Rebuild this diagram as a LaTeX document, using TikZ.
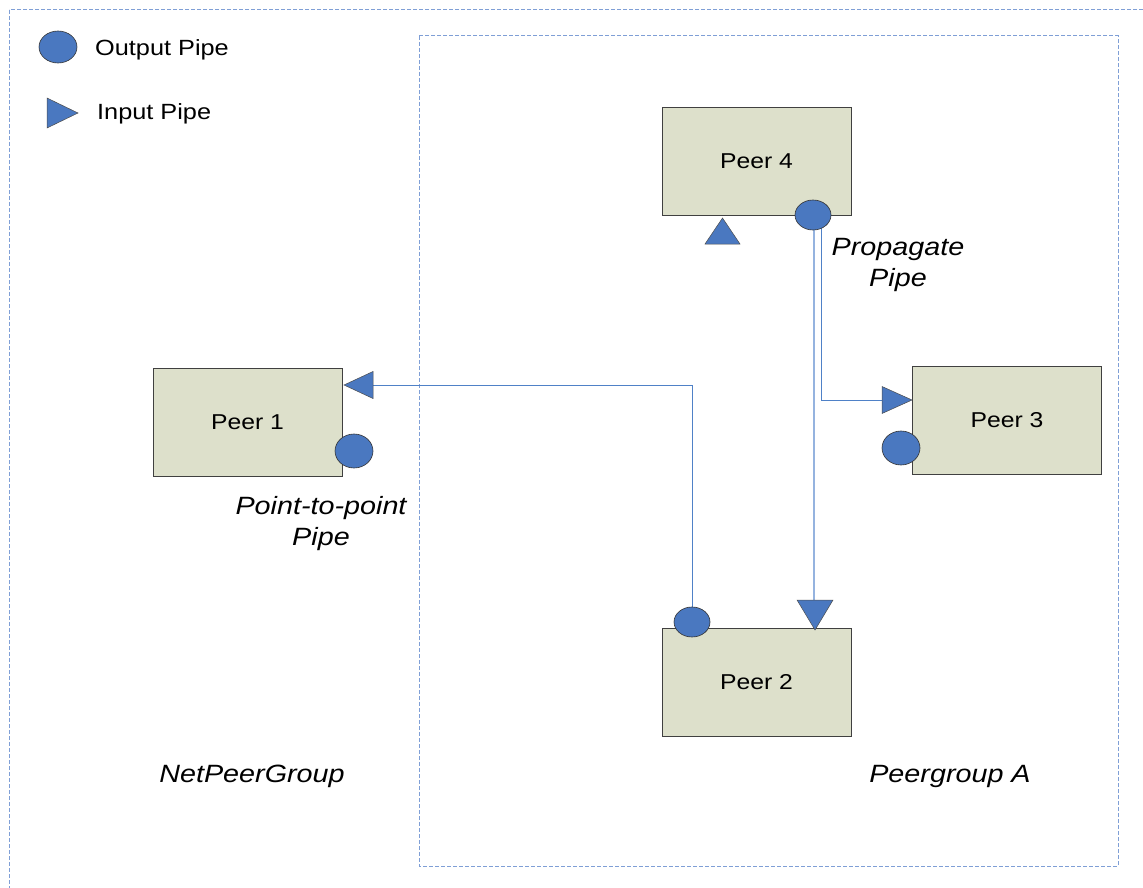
\documentclass[tikz,border=0pt]{standalone}
\usepackage{fontspec}
\setmainfont[FakeStretch=1.15]{Liberation Sans}
\usetikzlibrary{shapes.geometric,backgrounds}
\definecolor{peerfill}{HTML}{DDE0CB}
\definecolor{pipeblue}{HTML}{4A78C0}
\definecolor{linkblue}{HTML}{4F81C7}
\definecolor{lightlink}{HTML}{95B3DF}
\definecolor{groupline}{HTML}{7F9FD6}

\begin{document}
\begin{tikzpicture}[x=1pt,y=-1pt,
  peer/.style={draw=black!75, line width=0.8pt, fill=peerfill,
    minimum width=189pt, minimum height=108pt, inner sep=0pt,
    font=\fontsize{21.5}{24}\selectfont},
  outpipe/.style={ellipse, draw=black!80, line width=0.6pt, fill=pipeblue, inner sep=0pt},
  smallpipe/.style={outpipe, minimum width=36pt, minimum height=30pt},
  bigpipe/.style={outpipe, minimum width=38pt, minimum height=34pt},
  inpipe/.style={draw=black!70, line width=0.5pt, fill=pipeblue},
  link/.style={draw=linkblue, line width=0.9pt},
  lightlinkstyle/.style={draw=lightlink, line width=1.2pt},
  group/.style={draw=groupline, line width=1pt, dash pattern=on 4pt off 2pt},
  legendtext/.style={anchor=west, inner sep=0pt, font=\fontsize{22}{26}\selectfont},
  label/.style={align=center, inner sep=0pt, font=\fontsize{25}{31}\selectfont\itshape}
]
\useasboundingbox (0,0) rectangle (1143,888);

% peers
\node[peer] (p4) at (756.5,161) {Peer 4};
\node[peer] (p1) at (247.5,422) {Peer 1};
\node[peer] (p3) at (1007,420.5) {Peer 3};
\node[peer] (p2) at (756.5,682) {Peer 2};

% output pipes
\node[smallpipe] (o4) at (813,215) {};
\node[bigpipe]   (o1) at (354,451) {};
\node[bigpipe]   (o3) at (901,448) {};
\node[smallpipe] (o2) at (692,622) {};
\node[bigpipe, minimum height=32pt] (olegend) at (58,47) {};

% input pipes (triangles) with the points where connectors meet them
\fill[inpipe] (344,385) -- (373,371.5) -- (373,398.5) -- cycle;
\coordinate (t1) at (373,385);
\fill[inpipe] (912,400) -- (882,386.5) -- (882,413.5) -- cycle;
\coordinate (t3) at (882,400);
\fill[inpipe] (815,630) -- (797,600) -- (833,600) -- cycle;
\coordinate (t2) at (815,600);
\fill[inpipe] (722.5,218) -- (705,244) -- (740,244) -- cycle;
\fill[inpipe] (47,98) -- (78,113) -- (47,128) -- cycle;
\coordinate (o4a) at (814,215);
\coordinate (o4b) at (821,215);

\begin{scope}[on background layer]
  % peer groups
  \draw[group] (9,10) rectangle (1170,910);
  \draw[group] (419,36) rectangle (1118,866);
  % point-to-point pipe
  \draw[link] (o2.center) |- (t1);
  % propagate pipe
  \draw[lightlinkstyle] (o4a) -- (t2 -| o4a);
  \draw[link] (o4b) |- (t3);
\end{scope}

% legend
\node[legendtext] (lout) at (95,50) {Output Pipe};
\node[legendtext] (lin) at (97,114) {Input Pipe};

% labels
\node[label] (prop) at (898,264.5) {Propagate\\Pipe};
\node[label] (ptp) at (321,523.5) {Point-to-point\\Pipe};
\node[label] (netpg) at (252,776.5) {NetPeerGroup};
\node[label] (pga) at (950,776.5) {Peergroup A};
\end{tikzpicture}
\end{document}
